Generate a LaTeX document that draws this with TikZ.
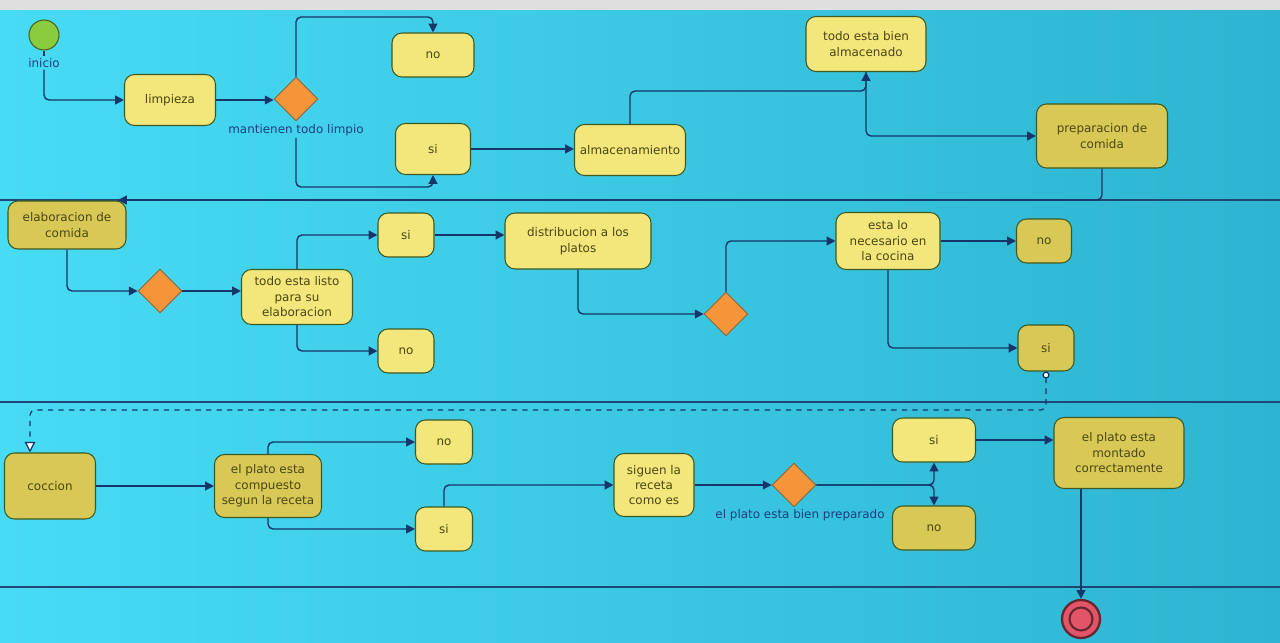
\documentclass[tikz,border=0pt]{standalone}
\usepackage{fontspec}
\setmainfont{DejaVu Sans}
\usetikzlibrary{arrows.meta,shapes.geometric}

\definecolor{bgL}{HTML}{48DBF4}
\definecolor{bgR}{HTML}{2DB4D0}
\definecolor{lane}{HTML}{1E4778}
\definecolor{flowc}{HTML}{15356B}
\definecolor{boxL}{HTML}{F3E67B}
\definecolor{boxD}{HTML}{D8C957}
\definecolor{boxline}{HTML}{3D5A22}
\definecolor{boxtxt}{HTML}{4B4612}
\definecolor{lbltxt}{HTML}{1C3E80}
\definecolor{decfill}{HTML}{F6943A}
\definecolor{decline}{HTML}{86683A}
\definecolor{startc}{HTML}{8BCB3E}
\definecolor{endc}{HTML}{E25468}

\tikzset{
  sz/.style 2 args={minimum width=#1*0.02cm, minimum height=#2*0.02cm},
  act/.style={draw=boxline, fill=boxL, rounded corners=0.2cm, line width=0.6pt, align=center,
    text=boxtxt, font=\fontsize{6.8}{8.8}\selectfont, inner sep=1pt},
  actd/.style={act, fill=boxD},
  dec/.style={diamond, draw=decline, fill=decfill, minimum size=0.88cm, inner sep=0pt, line width=0.5pt},
  flow/.style={draw=flowc, line width=0.8pt, rounded corners=0.1cm, -{Triangle[length=5pt,width=5pt]}},
  lbl/.style={text=lbltxt, font=\fontsize{6.8}{8.8}\selectfont, inner sep=1pt},
  lanesep/.style={draw=lane, line width=0.8pt},
}

\begin{document}
\begin{tikzpicture}[x=0.02cm, y=-0.02cm]
        \useasboundingbox (0,0) rectangle (1280,642);
        % screen and lanes
        \fill[gray!25] (0,0) rectangle (1280,11);
        \fill[left color=bgL, right color=bgR] (0,11) rectangle (1280,642);
        \draw[lanesep] (0,200) -- (1280,200);
        \draw[lanesep] (0,402) -- (1280,402);
        \draw[lanesep] (0,587) -- (1280,587);

        % first lane
        \node[circle, draw=startc!50!black, fill=startc, minimum size=0.6cm, line width=0.6pt] (ini) at (44,35) {};
        \node[lbl] (inilbl) at (44,63) {inicio};
        \node[act, sz={91}{51}] (limp) at (170,100) {limpieza};
        \node[dec] (d1) at (296,99) {};
        \node[lbl] (d1lbl) at (296,130) {mantienen todo limpio};
        \node[act, sz={82}{44}] (no1) at (433,55) {no};
        \node[act, sz={75}{51}] (si1) at (433,149) {si};
        \node[act, sz={111}{51}] (alm) at (630,150) {almacenamiento};
        \node[act, sz={120}{55}] (bien) at (866,44) {todo esta bien\\almacenado};
        \node[actd, sz={131}{64}] (prep) at (1102,136) {preparacion de\\comida};

        % second lane
        \node[actd, sz={118}{48}] (elab) at (67,225) {elaboracion de\\comida};
        \node[dec] (d2) at (160,291) {};
        \node[act, sz={111}{55}] (listo) at (297,297) {todo esta listo\\para su\\elaboracion};
        \node[act, sz={56}{44}] (si2) at (406,235) {si};
        \node[act, sz={56}{44}] (no2) at (406,351) {no};
        \node[act, sz={146}{56}] (dist) at (578,241) {distribucion a los\\platos};
        \node[dec] (d3) at (726,314) {};
        \node[act, sz={104}{57}] (nec) at (888,241) {esta lo\\necesario en\\la cocina};
        \node[actd, sz={55}{44}] (no3) at (1044,241) {no};
        \node[actd, sz={56}{46}] (si3) at (1046,348) {si};

        % third lane
        \node[actd, sz={91}{66}] (cocc) at (50,486) {coccion};
        \node[actd, sz={107}{63}] (comp) at (268,486) {el plato esta\\compuesto\\segun la receta};
        \node[act, sz={57}{44}] (no4) at (444,442) {no};
        \node[act, sz={57}{44}] (si4) at (444,529) {si};
        \node[act, sz={80}{63}] (sig) at (654,485) {siguen la\\receta\\como es};
        \node[dec] (d4) at (794,485) {};
        \node[lbl] (d4lbl) at (800,515) {el plato esta bien preparado};
        \node[act, sz={83}{44}] (si5) at (934,440) {si};
        \node[actd, sz={83}{44}] (no5) at (934,528) {no};
        \node[actd, sz={130}{71}] (mont) at (1119,453) {el plato esta\\montado\\correctamente};
        \node[circle, draw=endc!45!black, fill=endc, minimum size=0.76cm, line width=1.3pt] (fin) at (1081,619) {};
        \node[circle, draw=endc!45!black, minimum size=0.46cm, line width=1.2pt] (fin2) at (fin) {};

        % bend points
        \coordinate (c1) at (296,17);
        \coordinate (c2) at (296,187);
        \coordinate (c3) at (866,91);
        \coordinate (c4) at (118,200);
        \coordinate (c6) at (30,410);

        % flows
        \draw[draw=flowc, line width=0.8pt] (ini.south) -- (inilbl.north);
        \draw[flow] (inilbl.south) |- (limp.west);
        \draw[flow] (limp.east) -- (limp.east -| d1.west);
        \draw[flow] (d1.north) -- (c1) -| (no1.north);
        \draw[flow] (d1lbl.south) -- (c2) -| (si1.south);
        \draw[flow] (si1.east) -- (si1.east -| alm.west);
        \draw[flow] (alm.north) |- (c3) -- (bien.south);
        \draw[flow] (bien.south) |- (prep.west);
        \draw[flow] (prep.south) |- (c4);
        \draw[flow] (elab.south) |- (d2.west);
        \draw[flow] (d2.east) -- (d2.east -| listo.west);
        \draw[flow] (listo.north) |- (si2.west);
        \draw[flow] (listo.south) |- (no2.west);
        \draw[flow] (si2.east) -- (si2.east -| dist.west);
        \draw[flow] (dist.south) |- (d3.west);
        \draw[flow] (d3.north) |- (nec.west);
        \draw[flow] (nec.east) -- (nec.east -| no3.west);
        \draw[flow] (nec.south) |- (si3.west);
        \draw[draw=flowc, line width=0.7pt, dashed, rounded corners=0.1cm,
          {Circle[open, fill=white, length=4pt]}-{Triangle[open, fill=white, length=6pt, width=6pt]}]
          (si3.south) |- (c6) -- (c6 |- cocc.north);
        \draw[flow] (cocc) -- (comp);
        \draw[flow] (comp.north) |- (no4.west);
        \draw[flow] (comp.south) |- (si4.west);
        \draw[flow] (si4.north) |- (sig.west);
        \draw[flow] (sig) -- (d4);
        \draw[flow] (d4.east) -| (si5.south);
        \draw[flow] (d4.east) -| (no5.north);
        \draw[flow] (si5.east) -- (si5.east -| mont.west);
        \draw[flow] (mont.south -| fin.north) -- (fin.north);
\end{tikzpicture}
\end{document}
